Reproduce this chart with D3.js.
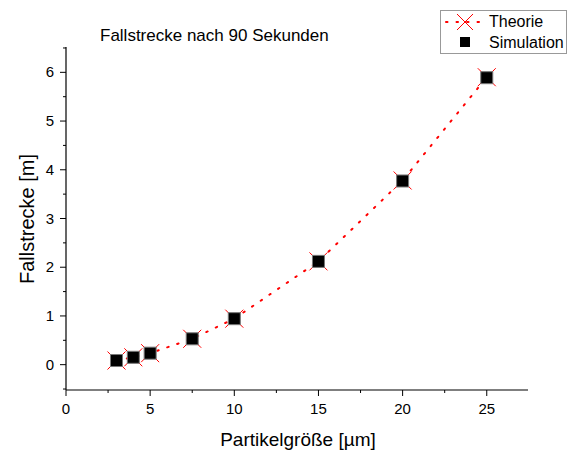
<!DOCTYPE html>
<html>
  <head>
    <meta charset="utf-8">
    <script src="https://d3js.org/d3.v7.min.js"></script>
    <style>
      body { margin: 0; background: #fff; }
      text { font-family: "Liberation Sans", Arial, sans-serif; }
    </style>
  </head>
<body>
  <script type="text/javascript">
    // particle size [µm]
    var sizes = [3, 4, 5, 7.5, 10, 15, 20, 25];
    // fall distance [m] after 90 s
    var theorie = [0.085, 0.151, 0.236, 0.531, 0.944, 2.12, 3.78, 5.90];
    var simulation = [0.085, 0.151, 0.236, 0.531, 0.944, 2.12, 3.77, 5.89];
    var xTicks = [0, 5, 10, 15, 20, 25];
    var yTicks = [0, 1, 2, 3, 4, 5, 6];

    var width = 571, height = 452;
    var svg = d3.select("body").append("svg")
        .attr("width", width)
        .attr("height", height);

    var x = d3.scaleLinear().domain([0, 27.45]).range([66, 528]);
    var y = d3.scaleLinear().domain([-0.52, 6.52]).range([390, 47]);

    // x axis
    var gx = svg.append("g").attr("transform", "translate(0,390)");
    gx.append("line").attr("x1", 66).attr("x2", 528).attr("stroke", "#000").attr("stroke-width", 1.2);
    gx.selectAll(".minor").data(d3.range(2.5, 27.5, 5)).enter().append("line")
        .attr("x1", x).attr("x2", x).attr("y1", 0).attr("y2", 3).attr("stroke", "#000");
    gx.selectAll(".major").data(xTicks).enter().append("line")
        .attr("x1", x).attr("x2", x).attr("y1", 0).attr("y2", 6).attr("stroke", "#000");
    gx.selectAll(".lbl").data(xTicks).enter().append("text")
        .attr("x", x).attr("y", 24).attr("text-anchor", "middle")
        .style("font-size", "15px").text(function (d) { return d; });

    // y axis
    var gy = svg.append("g").attr("transform", "translate(66,0)");
    gy.append("line").attr("y1", 47).attr("y2", 390).attr("stroke", "#000").attr("stroke-width", 1.2);
    gy.selectAll(".minor").data(d3.range(-0.5, 6.6, 1)).enter().append("line")
        .attr("y1", y).attr("y2", y).attr("x1", 0).attr("x2", -3).attr("stroke", "#000");
    gy.selectAll(".major").data(yTicks).enter().append("line")
        .attr("y1", y).attr("y2", y).attr("x1", 0).attr("x2", -6).attr("stroke", "#000");
    gy.selectAll(".lbl").data(yTicks).enter().append("text")
        .attr("x", -12).attr("y", function (d) { return y(d) + 5; }).attr("text-anchor", "end")
        .style("font-size", "15px").text(function (d) { return d; });

    // axis titles
    svg.append("text").attr("x", 298).attr("y", 446).attr("text-anchor", "middle")
        .style("font-size", "19px").text("Partikelgröße [µm]");
    svg.append("text").attr("transform", "translate(34,219) rotate(-90)").attr("text-anchor", "middle")
        .style("font-size", "20px").text("Fallstrecke [m]");
    svg.append("text").attr("x", 100).attr("y", 41)
        .style("font-size", "17px").text("Fallstrecke nach 90 Sekunden");

    // theory dotted line
    var pts = sizes.map(function (d, i) { return [d, theorie[i]]; });
    svg.append("path").datum(pts)
        .attr("d", d3.line().x(function (d) { return x(d[0]); }).y(function (d) { return y(d[1]); }))
        .attr("fill", "none").attr("stroke", "#ff0000").attr("stroke-width", 2)
        .attr("stroke-dasharray", "1.5,9").attr("stroke-linecap", "round");

    function cross(g, cx, cy, r) {
      g.append("path")
        .attr("d", "M" + (cx - r) + "," + (cy - r) + "L" + (cx + r) + "," + (cy + r) +
                   "M" + (cx - r) + "," + (cy + r) + "L" + (cx + r) + "," + (cy - r))
        .attr("stroke", "#ff0000").attr("stroke-width", 1).attr("fill", "none");
    }
    var gm = svg.append("g");
    pts.forEach(function (p) { cross(gm, x(p[0]), y(p[1]), 9); });

    svg.selectAll(".sim").data(sizes).enter().append("rect")
        .attr("x", function (d) { return x(d) - 6; })
        .attr("y", function (d, i) { return y(simulation[i]) - 6; })
        .attr("width", 12).attr("height", 12)
        .attr("fill", "#000").attr("stroke", "#777").attr("stroke-width", 1);

    // legend
    var lg = svg.append("g");
    lg.append("rect").attr("x", 440.5).attr("y", 10.5).attr("width", 126).attr("height", 43)
        .attr("fill", "#fff").attr("stroke", "#999");
    lg.append("line").attr("x1", 446).attr("x2", 484).attr("y1", 22).attr("y2", 22)
        .attr("stroke", "#ff0000").attr("stroke-width", 2).attr("stroke-dasharray", "1.5,9")
        .attr("stroke-linecap", "round");
    cross(lg, 465, 22, 8);
    lg.append("rect").attr("x", 460).attr("y", 37).attr("width", 10).attr("height", 10).attr("fill", "#000");
    lg.append("text").attr("x", 489).attr("y", 27).style("font-size", "16px").text("Theorie");
    lg.append("text").attr("x", 489).attr("y", 48).style("font-size", "16px").text("Simulation");
  </script>
</body>
</html>
